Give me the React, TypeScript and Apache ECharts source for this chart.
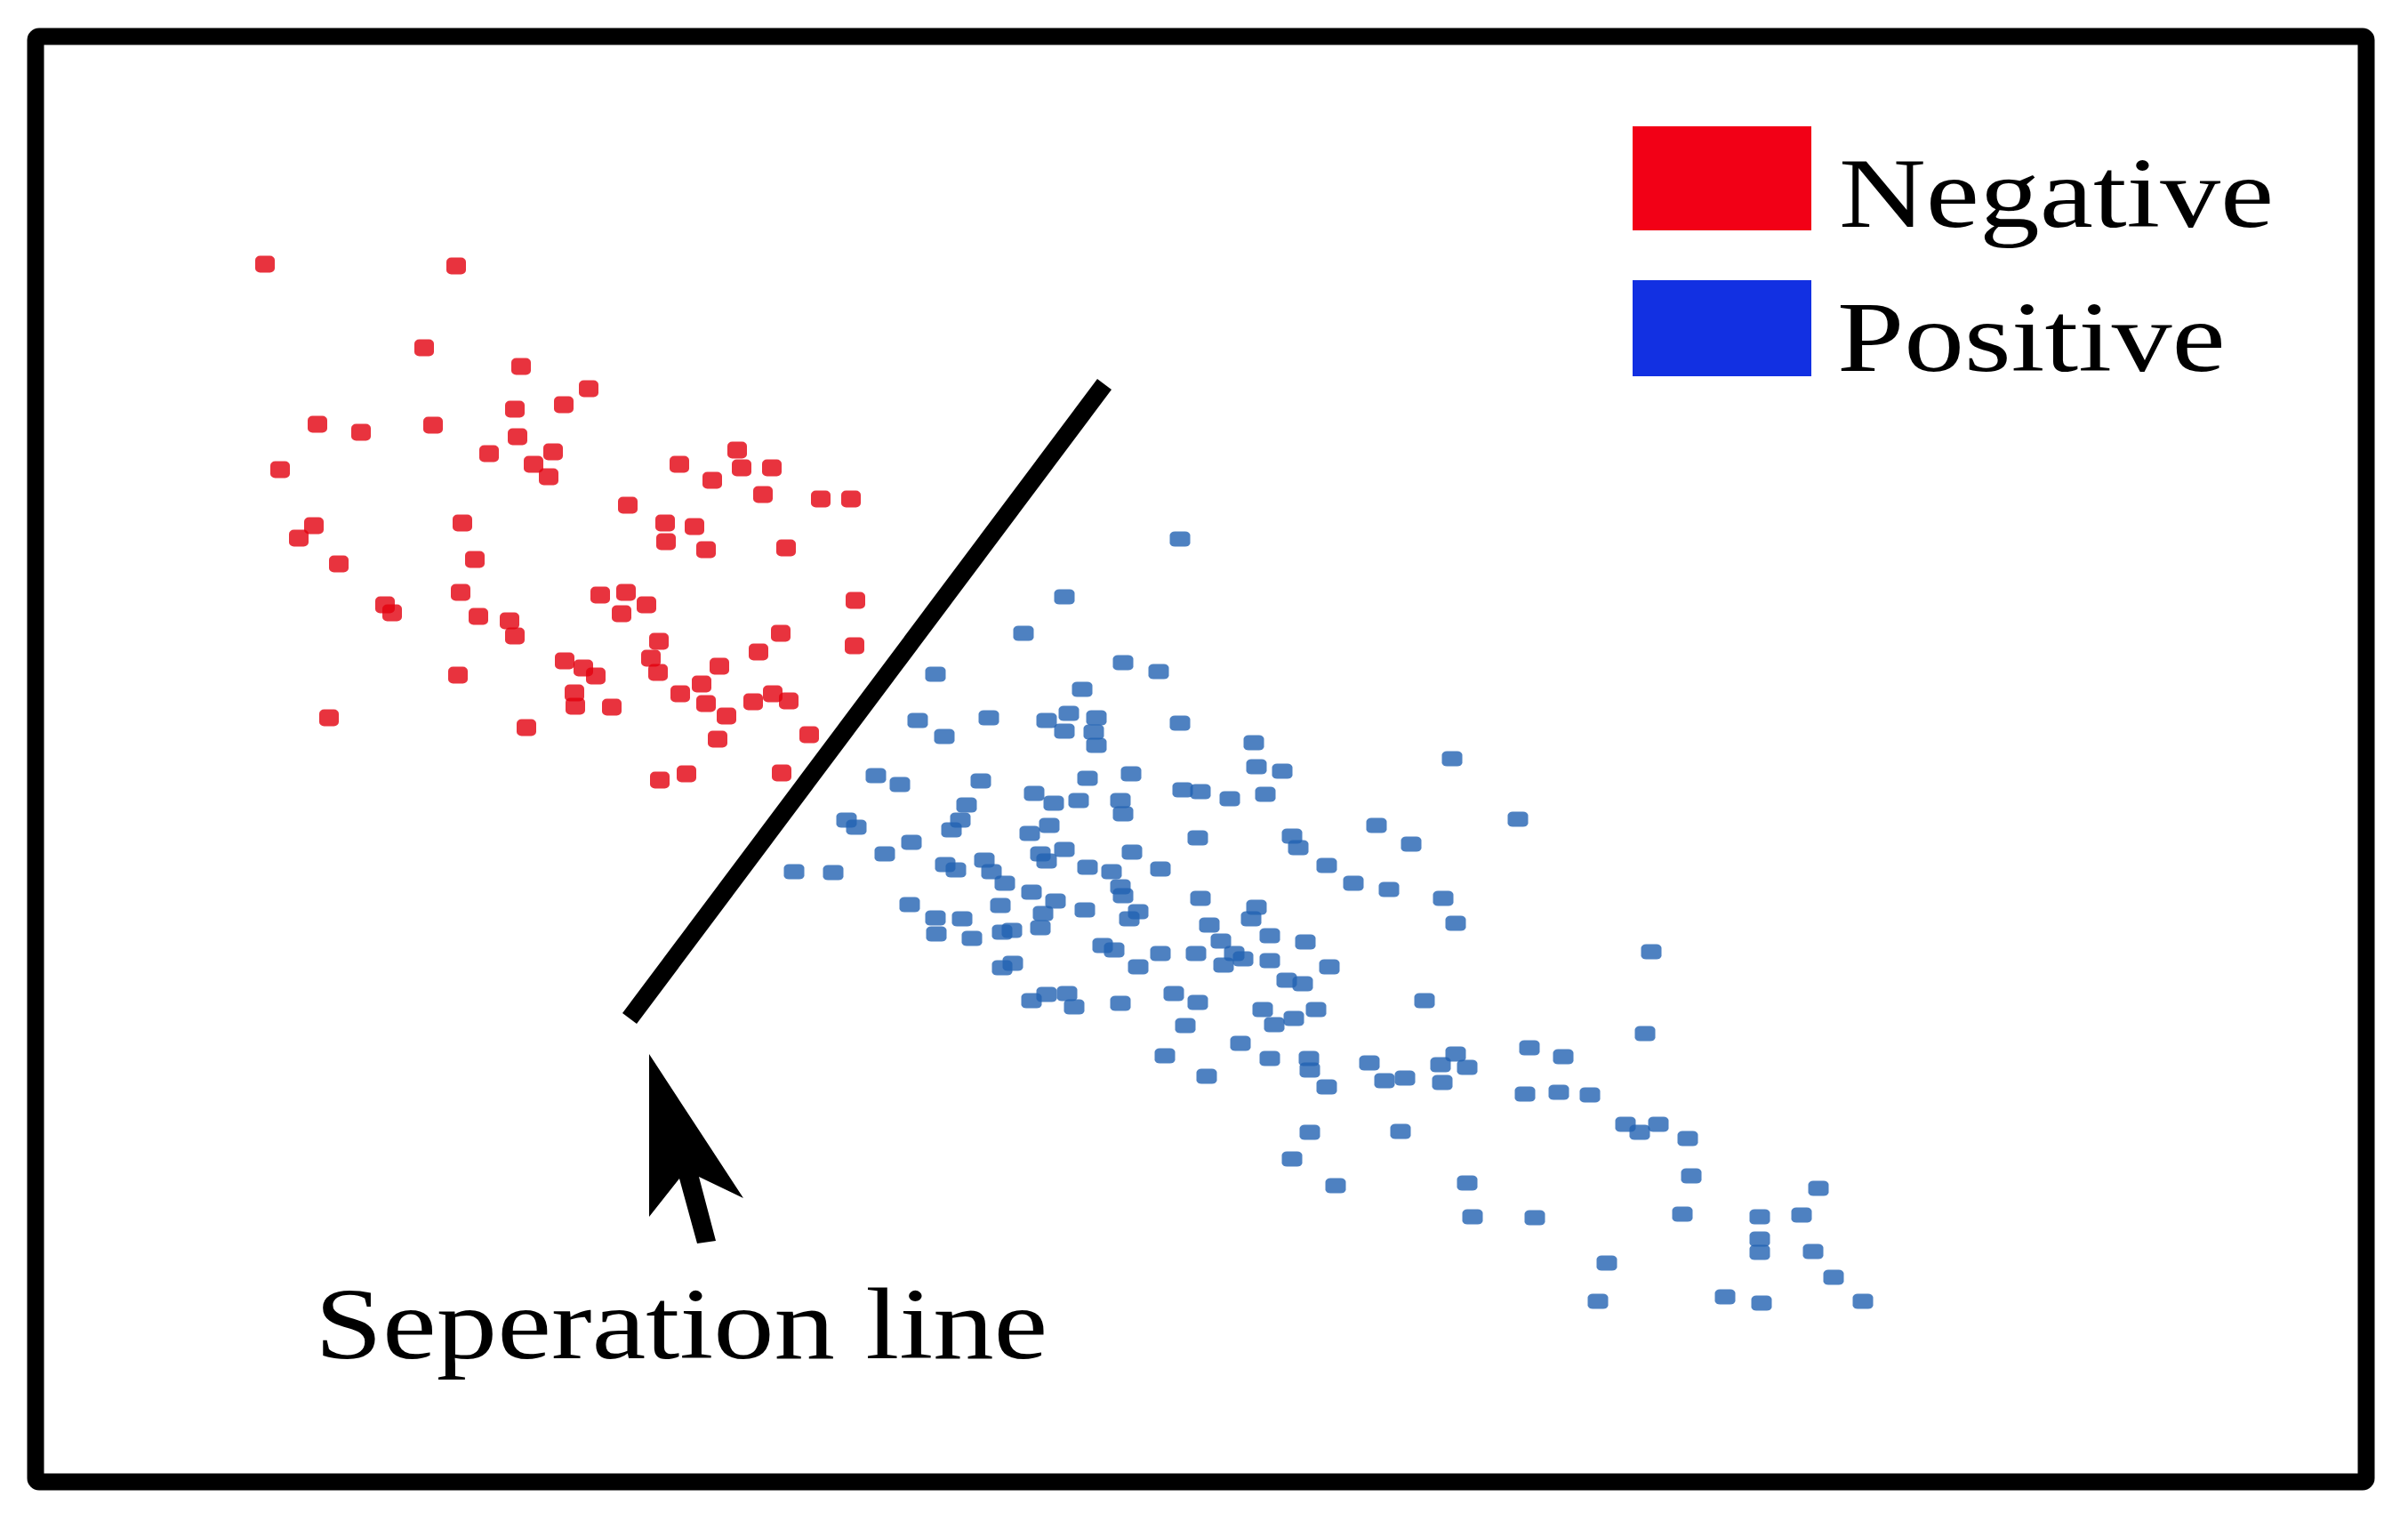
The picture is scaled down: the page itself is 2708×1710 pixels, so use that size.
import React, { useEffect, useRef } from "react";
import * as echarts from "echarts";

const W = 2708;
const H = 1710;

// Negative class samples (abstract feature space, no axes shown)
const negativePoints: [number, number][] = [
  [298, 297], [513, 299], [477, 391], [586, 412], [662, 437], [634, 455], [579, 460], [357, 477], [406, 486], [487, 478],
  [582, 491], [550, 510], [622, 508], [600, 522], [617, 536], [315, 528], [764, 522], [829, 506], [834, 526], [868, 526],
  [801, 540], [858, 556], [923, 561], [957, 561], [706, 568], [353, 591], [336, 605], [520, 588], [381, 634], [534, 629],
  [748, 588], [781, 592], [749, 609], [794, 618], [884, 616], [518, 666], [433, 680], [441, 689], [538, 693], [573, 698],
  [579, 715], [675, 669], [704, 666], [699, 690], [727, 680], [962, 675], [741, 721], [878, 712], [961, 726], [732, 740],
  [740, 756], [635, 743], [656, 751], [670, 760], [853, 733], [809, 749], [515, 759], [646, 779], [647, 794], [688, 795],
  [765, 780], [789, 769], [794, 791], [817, 805], [847, 789], [869, 780], [887, 788], [370, 807], [592, 818], [807, 831],
  [910, 826], [742, 877], [772, 870], [879, 869],
];

// Positive class samples
const positivePoints: [number, number][] = [
  [1327, 606], [1197, 671], [1151, 712], [1410, 835],
  [1052, 758], [1263, 745], [1303, 755], [1217, 775], [1032, 810], [1112, 807], [1062, 828],
  [1177, 810], [1202, 802], [1197, 822], [1233, 807], [1230, 823], [1233, 838],
  [1327, 813],
  [985, 872], [1012, 882], [1103, 878], [1163, 892], [1185, 903], [1223, 875], [1213, 900],
  [1272, 870], [1260, 900], [1263, 915], [1330, 888],
  [1087, 905], [1080, 922], [1070, 933],
  [952, 922], [963, 930],
  [1025, 947], [995, 960],
  [893, 980], [937, 981],
  [1063, 972], [1075, 978],
  [1107, 967], [1115, 980], [1130, 993],
  [1158, 937], [1180, 928],
  [1170, 960], [1197, 955], [1177, 968],
  [1160, 1003],
  [1273, 958],
  [1223, 975],
  [1250, 980], [1260, 997], [1263, 1007],
  [1305, 977],
  [1023, 1017],
  [1052, 1032], [1053, 1050],
  [1082, 1033], [1093, 1055],
  [1125, 1018], [1127, 1048], [1138, 1046],
  [1170, 1043], [1173, 1027], [1187, 1013],
  [1220, 1023],
  [1280, 1025], [1270, 1033],
  [1240, 1063], [1253, 1068],
  [1280, 1087],
  [1305, 1072],
  [1139, 1083], [1127, 1088],
  [1160, 1125], [1177, 1118],
  [1200, 1117], [1208, 1132],
  [1260, 1128],
  [1320, 1117],
  [1333, 1153],
  [1310, 1187],
  [1413, 862], [1442, 867], [1350, 890], [1383, 898], [1423, 893],
  [1548, 928], [1587, 949], [1707, 921],
  [1347, 942],
  [1453, 940], [1460, 953], [1492, 973], [1522, 993], [1562, 1000], [1623, 1010], [1637, 1038],
  [1350, 1010],
  [1413, 1020], [1407, 1033],
  [1360, 1040], [1373, 1058], [1388, 1072], [1376, 1085], [1398, 1078],
  [1345, 1072],
  [1428, 1052], [1468, 1059], [1428, 1080], [1495, 1087],
  [1447, 1102], [1465, 1106],
  [1347, 1127],
  [1602, 1125],
  [1420, 1135], [1433, 1152], [1455, 1145], [1480, 1135],
  [1395, 1173],
  [1357, 1210],
  [1428, 1190],
  [1472, 1190], [1473, 1203],
  [1492, 1222],
  [1540, 1195],
  [1557, 1215], [1580, 1212],
  [1637, 1185], [1620, 1197], [1650, 1200], [1622, 1217],
  [1720, 1178], [1758, 1188],
  [1715, 1230], [1753, 1228],
  [1473, 1273],
  [1575, 1272],
  [1633, 853], [1857, 1070], [1850, 1162], [1828, 1264], [1844, 1273], [1865, 1264], [1898, 1280],
  [1902, 1322], [1892, 1365], [2045, 1336], [1979, 1368], [2026, 1366], [1979, 1393], [1979, 1408],
  [2039, 1407], [2062, 1436], [2095, 1463], [1981, 1465], [1940, 1458], [1807, 1420], [1797, 1463],
  [1726, 1369], [1656, 1368], [1650, 1330], [1788, 1231],
  [1453, 1303], [1502, 1333],
];

// Separation line end points
const separationLine: [number, number][] = [
  [1242, 432],
  [708, 1145],
];

const legendLabels = ["Negative", "Positive"];
const annotationLabel = "Seperation line";

const SERIF = "'Liberation Serif', 'Times New Roman', Times, serif";

export default function App() {
  const ref = useRef<HTMLDivElement>(null);

  useEffect(() => {
    document.body.style.margin = "0";
    const chart = echarts.init(ref.current as HTMLDivElement, null, {
      renderer: "svg",
      width: W,
      height: H,
    });

    chart.setOption({
      animation: false,
      backgroundColor: "#ffffff",
      grid: { left: 0, right: 0, top: 0, bottom: 0 },
      xAxis: { type: "value", min: 0, max: W, show: false },
      yAxis: { type: "value", min: 0, max: H, inverse: true, show: false },
      series: [
        {
          name: legendLabels[0],
          type: "scatter",
          data: negativePoints,
          symbol: "roundRect",
          symbolSize: [22, 19],
          itemStyle: { color: "#e2000e" },
          silent: true,
        },
        {
          name: legendLabels[1],
          type: "scatter",
          data: positivePoints,
          symbol: "roundRect",
          symbolSize: [23, 17],
          itemStyle: { color: "#2262b2" },
          silent: true,
        },
        {
          name: "separation",
          type: "line",
          data: separationLine,
          symbol: "none",
          z: 5,
          lineStyle: { color: "#000000", width: 20, cap: "butt" },
          silent: true,
        },
      ],
      graphic: [
        {
          type: "rect",
          shape: { x: 40, y: 41, width: 2621, height: 1625, r: 4 },
          style: { fill: "none", stroke: "#000000", lineWidth: 19 },
          silent: true,
        },
        {
          type: "polygon",
          shape: {
            points: [
              [730, 1185],
              [730, 1368],
              [764, 1325],
              [784, 1398],
              [805, 1395],
              [786, 1323],
              [836, 1347],
            ],
          },
          style: { fill: "#000000" },
          silent: true,
        },
        {
          type: "text",
          x: 354,
          y: 1489,
          scaleX: 1.2,
          style: {
            text: annotationLabel,
            fontFamily: SERIF,
            fontSize: 114,
            fill: "#000000",
            align: "left",
            verticalAlign: "middle",
          },
          silent: true,
        },
        {
          type: "rect",
          shape: { x: 1836, y: 142, width: 201, height: 117 },
          style: { fill: "#f20016" },
          silent: true,
        },
        {
          type: "rect",
          shape: { x: 1836, y: 315, width: 201, height: 108 },
          style: { fill: "#1230e2" },
          silent: true,
        },
        {
          type: "text",
          x: 2068,
          y: 217,
          scaleX: 1.21,
          style: {
            text: legendLabels[0],
            fontFamily: SERIF,
            fontSize: 112,
            fill: "#000000",
            align: "left",
            verticalAlign: "middle",
          },
          silent: true,
        },
        {
          type: "text",
          x: 2066,
          y: 379,
          scaleX: 1.21,
          style: {
            text: legendLabels[1],
            fontFamily: SERIF,
            fontSize: 112,
            fill: "#000000",
            align: "left",
            verticalAlign: "middle",
          },
          silent: true,
        },
      ],
    });

    return () => {
      chart.dispose();
    };
  }, []);

  return (
    <div
      ref={ref}
      style={{ position: "absolute", left: 0, top: 0, width: W, height: H, background: "#ffffff" }}
    />
  );
}
